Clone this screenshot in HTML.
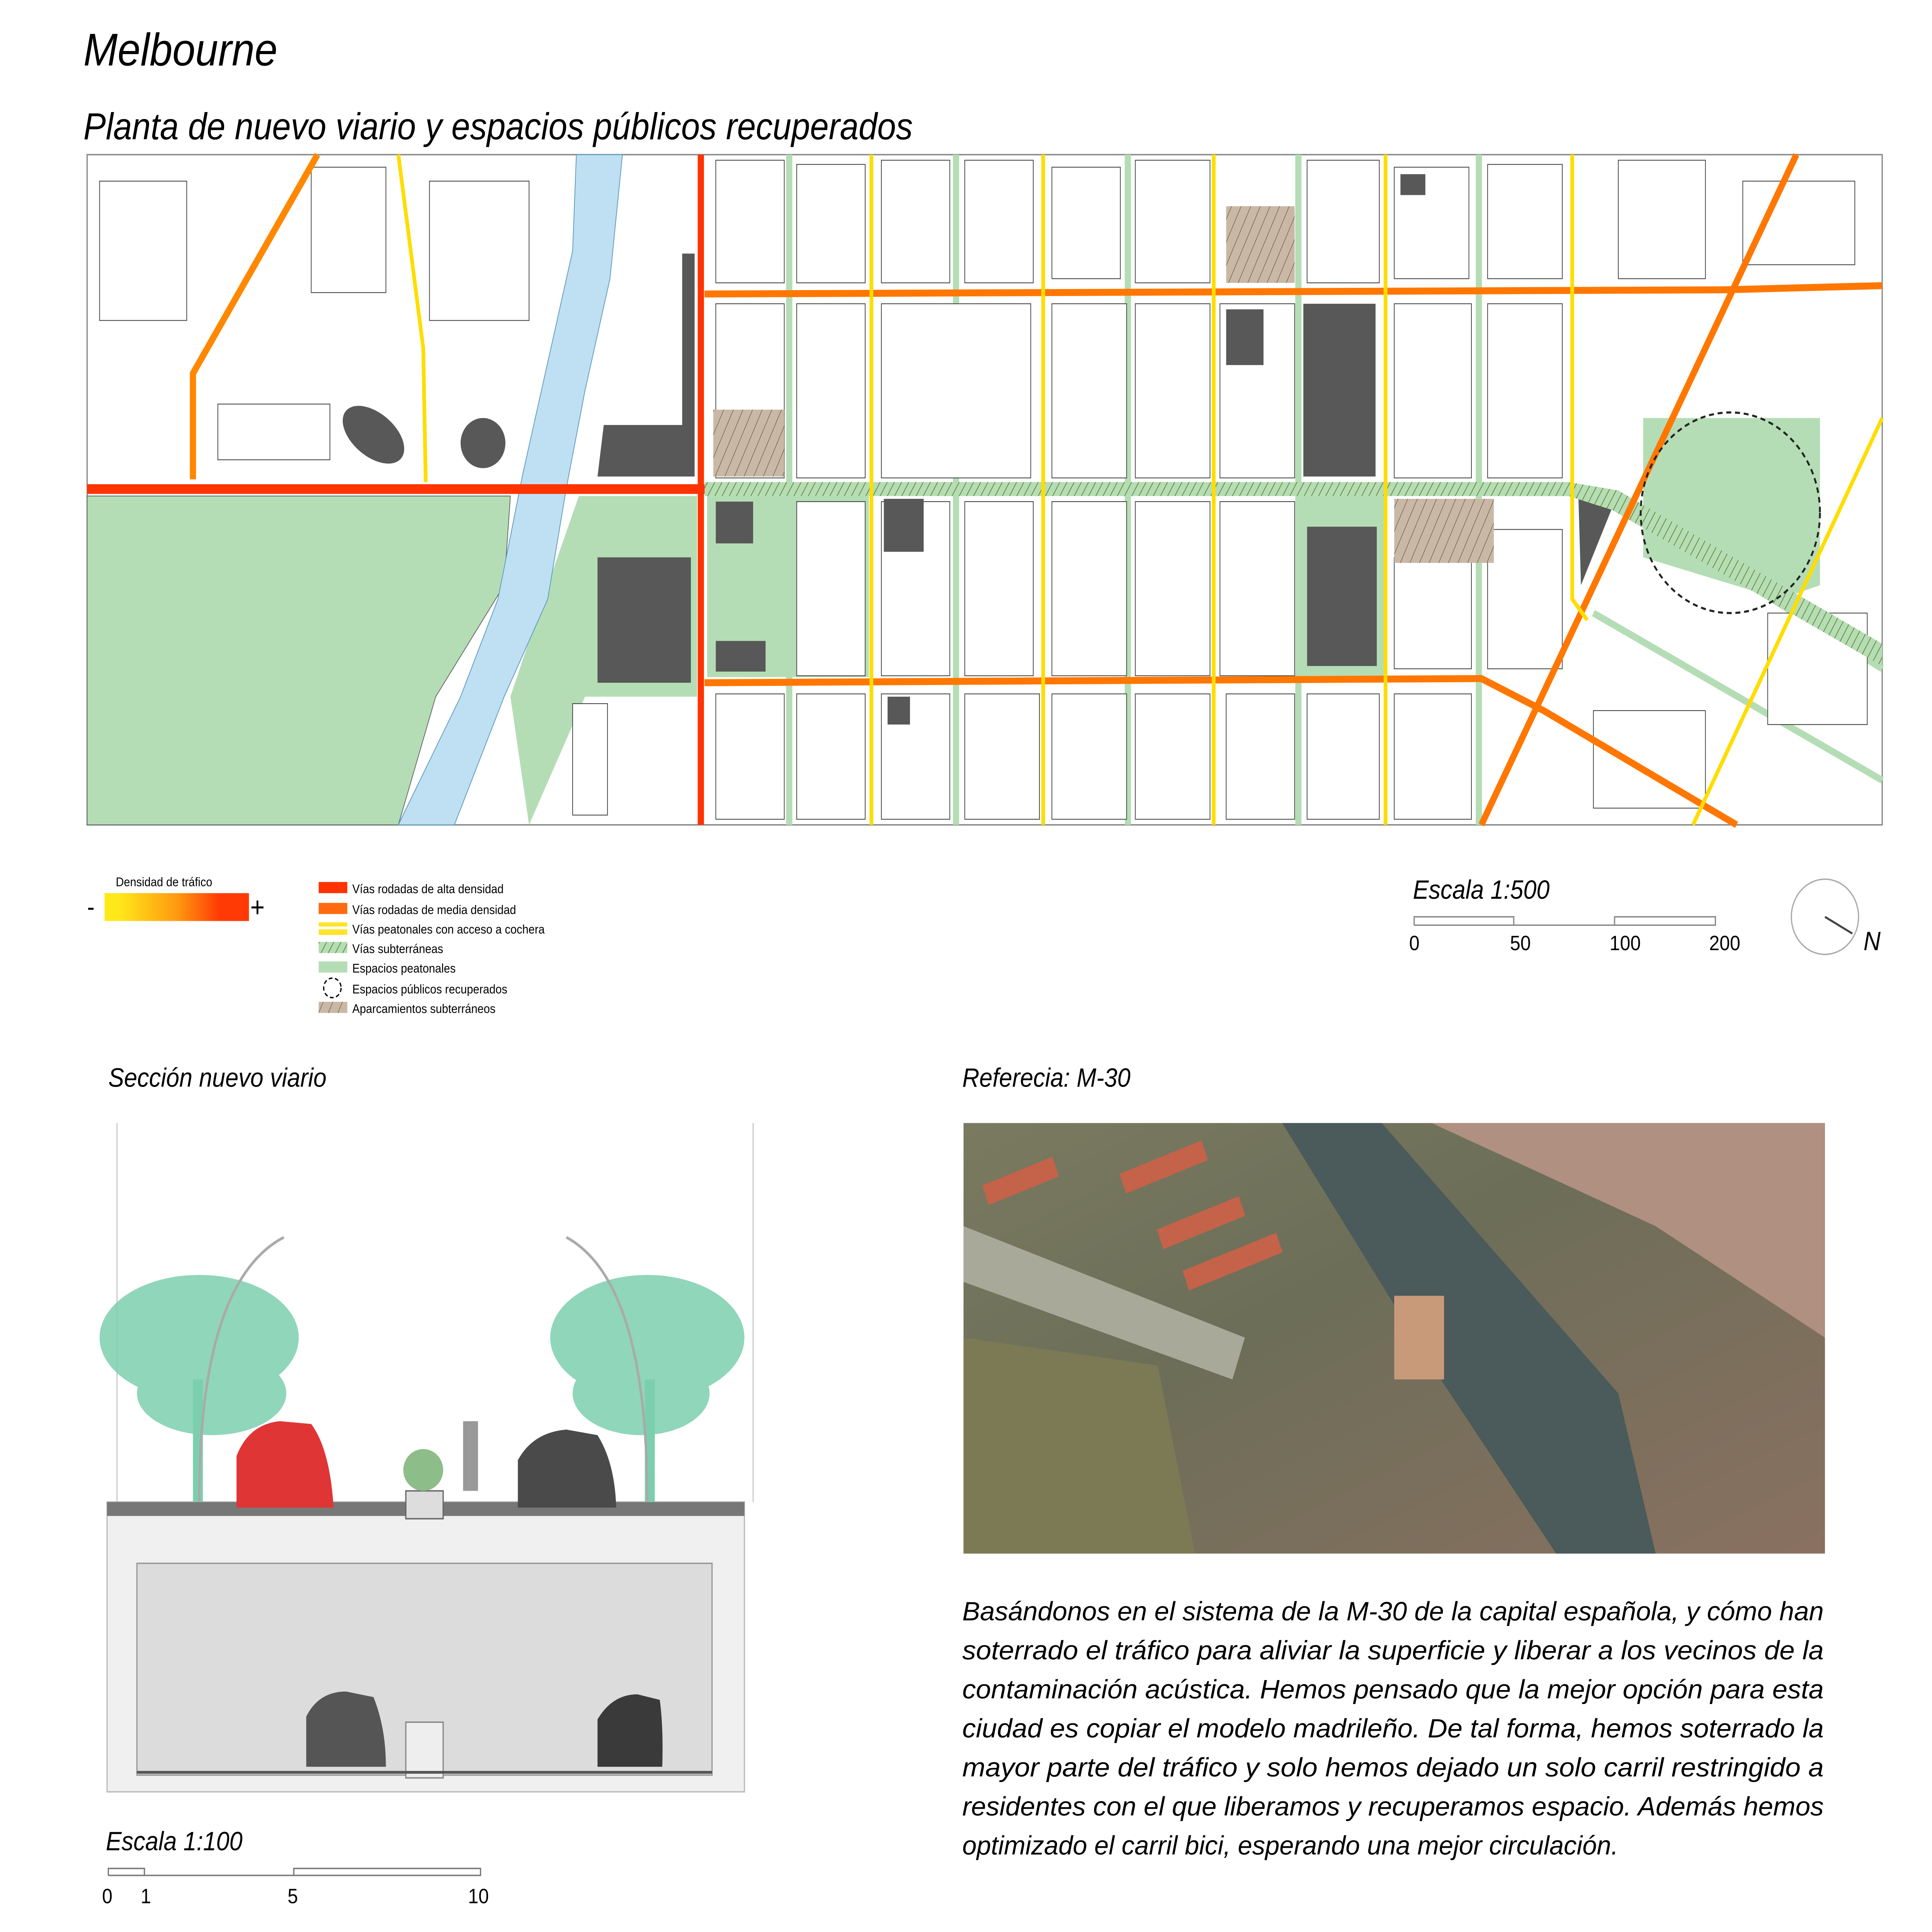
<!DOCTYPE html>
<html><head><meta charset="utf-8"><style>
html,body{margin:0;padding:0;background:#fff;width:100%;height:100%;overflow:hidden}
svg{display:block;position:fixed;left:0;top:0;width:100vw;height:100vh}
text{font-family:"Liberation Sans",sans-serif}
</style></head><body>
<svg viewBox="0 0 1552 1386.6" preserveAspectRatio="none" xmlns="http://www.w3.org/2000/svg">
<defs>
<pattern id="hg" width="5" height="5" patternUnits="userSpaceOnUse" patternTransform="rotate(30)"><rect width="5" height="5" fill="#b5ddb5"/><line x1="0" y1="0" x2="0" y2="5" stroke="#6a8a3a" stroke-width="1.2"/></pattern>
<pattern id="hb" width="7" height="7" patternUnits="userSpaceOnUse" patternTransform="rotate(25)"><rect width="7" height="7" fill="#c9b8a6"/><line x1="0" y1="0" x2="0" y2="7" stroke="#6b5a48" stroke-width="0.8"/></pattern>
<linearGradient id="gr" x1="0" x2="1"><stop offset="0.1" stop-color="#ffe81a"/><stop offset="0.5" stop-color="#ff9a10"/><stop offset="0.8" stop-color="#ff3a05"/></linearGradient>
<linearGradient id="ph" x1="0" y1="0" x2="1" y2="1"><stop offset="0" stop-color="#7a7a60"/><stop offset="0.4" stop-color="#6c6e58"/><stop offset="1" stop-color="#8a7060"/></linearGradient>
</defs>
<text x="67" y="47" font-size="33" font-style="italic">Melbourne</text>
<text x="67" y="100" font-size="27" font-style="italic">Planta de nuevo viario y espacios públicos recuperados</text>

<g>
<rect x="70" y="111" width="1442" height="481" fill="#fff" stroke="#888" stroke-width="1"/>
<polygon points="70,356 410,356 405,420 350,500 320,592 70,592" fill="#b5ddb5" stroke="#666" stroke-width="0.6"/>
<polygon points="465,356 560,356 560,500 470,500 425,592 410,500 440,420" fill="#b5ddb5"/>
<polygon points="463,111 500,111 490,200 470,280 455,350 440,430 405,500 365,592 320,592 370,500 400,430 420,340 440,260 460,180" fill="#bfe0f2" stroke="#5a9ac0" stroke-width="0.6"/>
<rect x="568" y="356" width="130" height="130" fill="#b5ddb5"/>
<rect x="1045" y="356" width="68" height="130" fill="#b5ddb5"/>
<polygon points="1320,300 1462,300 1462,420 1430,430 1320,400" fill="#b5ddb5"/>
<g stroke="#b5ddb5" stroke-width="5">
<line x1="634" y1="111" x2="634" y2="592"/><line x1="768" y1="111" x2="768" y2="592"/><line x1="906" y1="111" x2="906" y2="592"/><line x1="1043" y1="111" x2="1043" y2="592"/><line x1="1188" y1="111" x2="1188" y2="592"/>
<line x1="1280" y1="440" x2="1512" y2="560"/><line x1="1300" y1="360" x2="1512" y2="480"/>
</g>
<g fill="#fff" stroke="#444" stroke-width="0.6">
<rect x="575" y="115" width="55" height="88"/><rect x="640" y="118" width="55" height="85"/><rect x="708" y="115" width="55" height="88"/><rect x="775" y="115" width="55" height="88"/><rect x="845" y="120" width="55" height="80"/><rect x="912" y="115" width="60" height="88"/><rect x="1050" y="115" width="58" height="88"/><rect x="1120" y="120" width="60" height="80"/><rect x="1195" y="118" width="60" height="82"/><rect x="1300" y="115" width="70" height="85"/>
<rect x="575" y="218" width="55" height="125"/><rect x="640" y="218" width="55" height="125"/><rect x="708" y="218" width="120" height="125"/><rect x="845" y="218" width="60" height="125"/><rect x="912" y="218" width="60" height="125"/><rect x="980" y="218" width="60" height="125"/><rect x="1120" y="218" width="62" height="125"/><rect x="1195" y="218" width="60" height="125"/>
<rect x="640" y="360" width="55" height="125"/><rect x="708" y="360" width="55" height="125"/><rect x="775" y="360" width="55" height="125"/><rect x="845" y="360" width="60" height="125"/><rect x="912" y="360" width="60" height="125"/><rect x="980" y="360" width="60" height="125"/><rect x="1120" y="400" width="62" height="80"/><rect x="1195" y="380" width="60" height="100"/>
<rect x="575" y="498" width="55" height="90"/><rect x="640" y="498" width="55" height="90"/><rect x="708" y="498" width="55" height="90"/><rect x="775" y="498" width="60" height="90"/><rect x="845" y="498" width="60" height="90"/><rect x="912" y="498" width="60" height="90"/><rect x="985" y="498" width="55" height="90"/><rect x="1050" y="498" width="58" height="90"/><rect x="1120" y="498" width="62" height="90"/>
<rect x="80" y="130" width="70" height="100"/><rect x="175" y="290" width="90" height="40"/><rect x="250" y="120" width="60" height="90"/><rect x="345" y="130" width="80" height="100"/><rect x="460" y="505" width="28" height="80"/>
<rect x="1420" y="440" width="80" height="80"/><rect x="1280" y="510" width="90" height="70"/><rect x="1400" y="130" width="90" height="60"/>
</g>
<g fill="#585858">
<polygon points="548,182 558,182 558,342 480,342 485,305 548,305"/>
<rect x="1047" y="218" width="58" height="124"/><rect x="1050" y="378" width="56" height="100"/>
<rect x="710" y="358" width="32" height="38"/><rect x="575" y="460" width="40" height="22"/><rect x="575" y="360" width="30" height="30"/>
<rect x="480" y="400" width="75" height="90"/>
<rect x="985" y="222" width="30" height="40"/><rect x="1125" y="125" width="20" height="15"/>
<polygon points="1268,358 1298,358 1270,420"/>
<rect x="713" y="500" width="18" height="20"/>
<ellipse cx="300" cy="312" rx="28" ry="16" transform="rotate(35 300 312)"/><circle cx="388" cy="318" r="18"/>
</g>
<rect x="985" y="148" width="55" height="55" fill="url(#hb)"/>
<rect x="573" y="294" width="57" height="48" fill="url(#hb)"/>
<rect x="1120" y="358" width="80" height="46" fill="url(#hb)"/>
<polygon points="566,346 1260,346 1300,352 1512,462 1512,478 1295,366 1260,356 566,356" fill="url(#hg)"/>
<g fill="none" stroke-linecap="butt">
<line x1="70" y1="351" x2="566" y2="351" stroke="#ff3300" stroke-width="7"/>
<line x1="563" y1="111" x2="563" y2="592" stroke="#ff3300" stroke-width="5"/>
<polyline points="566,211 1385,208 1512,205" stroke="#ff7700" stroke-width="5"/>
<polyline points="566,490 1190,487 1240,510 1395,592" stroke="#ff7700" stroke-width="5"/>
<line x1="1443" y1="111" x2="1190" y2="592" stroke="#ff7700" stroke-width="5"/>
<polyline points="255,111 155,268 155,344" stroke="#ff8800" stroke-width="5"/>
<g stroke="#ffdd00" stroke-width="3">
<polyline points="320,111 340,250 342,346"/>
<line x1="700" y1="111" x2="700" y2="592"/><line x1="838" y1="111" x2="838" y2="592"/><line x1="975" y1="111" x2="975" y2="592"/><line x1="1113" y1="111" x2="1113" y2="592"/>
<polyline points="1263,111 1263,430 1275,445"/>
<line x1="1512" y1="300" x2="1360" y2="592"/>
</g>
</g>
<circle cx="1390" cy="368" r="72" fill="none" stroke="#222" stroke-width="1.5" stroke-dasharray="4,3"/>
</g>

<text x="93" y="636" font-size="9">Densidad de tráfico</text>
<rect x="84" y="641" width="116" height="20" fill="url(#gr)"/>
<text x="70" y="657" font-size="18">-</text><text x="201" y="658" font-size="20">+</text>
<g font-size="9">
<rect x="256" y="633" width="23" height="8" fill="#ff3300"/><text x="283" y="641">Vías rodadas de alta densidad</text>
<rect x="256" y="648" width="23" height="8" fill="#ff6a10"/><text x="283" y="656">Vías rodadas de media densidad</text>
<rect x="256" y="662" width="23" height="3" fill="#ffe42a"/><rect x="256" y="667" width="23" height="4" fill="#ffe42a"/><text x="283" y="670">Vías peatonales con acceso a cochera</text>
<rect x="256" y="676" width="23" height="8" fill="url(#hg)"/><text x="283" y="684">Vías subterráneas</text>
<rect x="256" y="690" width="23" height="8" fill="#b5ddb5"/><text x="283" y="698">Espacios peatonales</text>
<circle cx="267" cy="709" r="7" fill="none" stroke="#000" stroke-dasharray="3,2"/><text x="283" y="713">Espacios públicos recuperados</text>
<rect x="256" y="719" width="23" height="8" fill="url(#hb)"/><text x="283" y="727">Aparcamientos subterráneos</text>
</g>
<text x="1135" y="645" font-size="19" font-style="italic">Escala 1:500</text>
<polyline points="1136,664 1136,658 1216,658 1216,664 1297,664 1297,658 1378,658 1378,664 1136,664" fill="none" stroke="#888" stroke-width="1"/>
<g font-size="15"><text x="1132" y="682">0</text><text x="1213" y="682">50</text><text x="1293" y="682">100</text><text x="1373" y="682">200</text></g>
<circle cx="1466" cy="658" r="27" fill="none" stroke="#aaa"/>
<line x1="1466" y1="658" x2="1488" y2="670" stroke="#444" stroke-width="1.5"/>
<text x="1497" y="682" font-size="19" font-style="italic">N</text>

<text x="87" y="780" font-size="19" font-style="italic">Sección nuevo viario</text>
<line x1="94" y1="806" x2="94" y2="1078" stroke="#ccc"/><line x1="605" y1="806" x2="605" y2="1078" stroke="#ccc"/>
<rect x="86" y="1078" width="512" height="208" fill="#f0f0f0" stroke="#bbb"/>
<rect x="110" y="1122" width="462" height="152" fill="#dcdcdc" stroke="#999"/>
<rect x="326" y="1236" width="30" height="40" fill="#eee" stroke="#888"/>
<line x1="110" y1="1272" x2="572" y2="1272" stroke="#555" stroke-width="2"/>
<rect x="86" y="1078" width="512" height="10" fill="#777"/>
<rect x="326" y="1070" width="30" height="20" fill="#ddd" stroke="#666"/>
<g fill="#7ccfae" opacity="0.85">
<ellipse cx="160" cy="960" rx="80" ry="45"/><ellipse cx="170" cy="1000" rx="60" ry="30"/>
<ellipse cx="520" cy="960" rx="78" ry="45"/><ellipse cx="515" cy="1000" rx="55" ry="30"/>
</g>
<rect x="155" y="990" width="8" height="88" fill="#7ccfae"/><rect x="518" y="990" width="8" height="88" fill="#7ccfae"/>
<path d="M160 1078 Q160 920 228 888" fill="none" stroke="#aaa" stroke-width="2"/>
<path d="M520 1078 Q520 920 455 888" fill="none" stroke="#aaa" stroke-width="2"/>
<path d="M190 1082 L190 1045 Q200 1022 225 1020 L250 1022 Q265 1040 268 1082 Z" fill="#e03535"/>
<path d="M416 1082 L416 1048 Q428 1028 455 1026 L480 1030 Q494 1050 495 1082 Z" fill="#4a4a4a"/>
<path d="M246 1268 L246 1232 Q256 1214 278 1214 L300 1218 Q310 1240 310 1268 Z" fill="#555"/>
<path d="M480 1268 L480 1234 Q492 1216 512 1216 L530 1220 Q533 1240 532 1268 Z" fill="#3a3a3a"/>
<ellipse cx="340" cy="1055" rx="16" ry="15" fill="#8dbd88"/>
<rect x="372" y="1020" width="12" height="50" fill="#999"/>
<text x="85" y="1328" font-size="19" font-style="italic">Escala 1:100</text>
<polyline points="87,1346 87,1341 116,1341 116,1346 236,1346 236,1341 386,1341 386,1346 87,1346" fill="none" stroke="#777"/>
<g font-size="15"><text x="82" y="1366">0</text><text x="113" y="1366">1</text><text x="231" y="1366">5</text><text x="376" y="1366">10</text></g>

<text x="773" y="780" font-size="19" font-style="italic">Referecia: M-30</text>
<rect x="774" y="806" width="692" height="309" fill="url(#ph)"/>
<polygon points="1030,806 1110,806 1300,1000 1330,1115 1250,1115 1150,980" fill="#4b5a5a"/>
<polygon points="774,880 1000,960 990,990 774,920" fill="#a9a99a"/>
<polygon points="774,960 930,980 960,1115 774,1115" fill="#7b7a55"/>
<polygon points="1150,806 1466,806 1466,960 1330,880" fill="#b09080"/>
<g fill="#c5624a"><rect x="790" y="840" width="60" height="15" transform="rotate(-20 820 848)"/><rect x="900" y="830" width="70" height="15" transform="rotate(-20 935 838)"/><rect x="930" y="870" width="70" height="15" transform="rotate(-20 965 878)"/><rect x="950" y="898" width="80" height="15" transform="rotate(-20 990 905)"/></g>
<rect x="1120" y="930" width="40" height="60" fill="#c99a7a"/>
<g font-size="19" font-style="italic">
<text x="773" y="1163" textLength="692" lengthAdjust="spacingAndGlyphs">Basándonos en el sistema de la M-30 de la capital española, y cómo han</text>
<text x="773" y="1191" textLength="692" lengthAdjust="spacingAndGlyphs">soterrado el tráfico para aliviar la superficie y liberar a los vecinos de la</text>
<text x="773" y="1219" textLength="692" lengthAdjust="spacingAndGlyphs">contaminación acústica. Hemos pensado que la mejor opción para esta</text>
<text x="773" y="1247" textLength="692" lengthAdjust="spacingAndGlyphs">ciudad es copiar el modelo madrileño. De tal forma, hemos soterrado la</text>
<text x="773" y="1275" textLength="692" lengthAdjust="spacingAndGlyphs">mayor parte del tráfico y solo hemos dejado un solo carril restringido a</text>
<text x="773" y="1303" textLength="692" lengthAdjust="spacingAndGlyphs">residentes con el que liberamos y recuperamos espacio. Además hemos</text>
<text x="773" y="1331" textLength="527" lengthAdjust="spacingAndGlyphs">optimizado el carril bici, esperando una mejor circulación.</text>
</g>
</svg>
</body></html>
